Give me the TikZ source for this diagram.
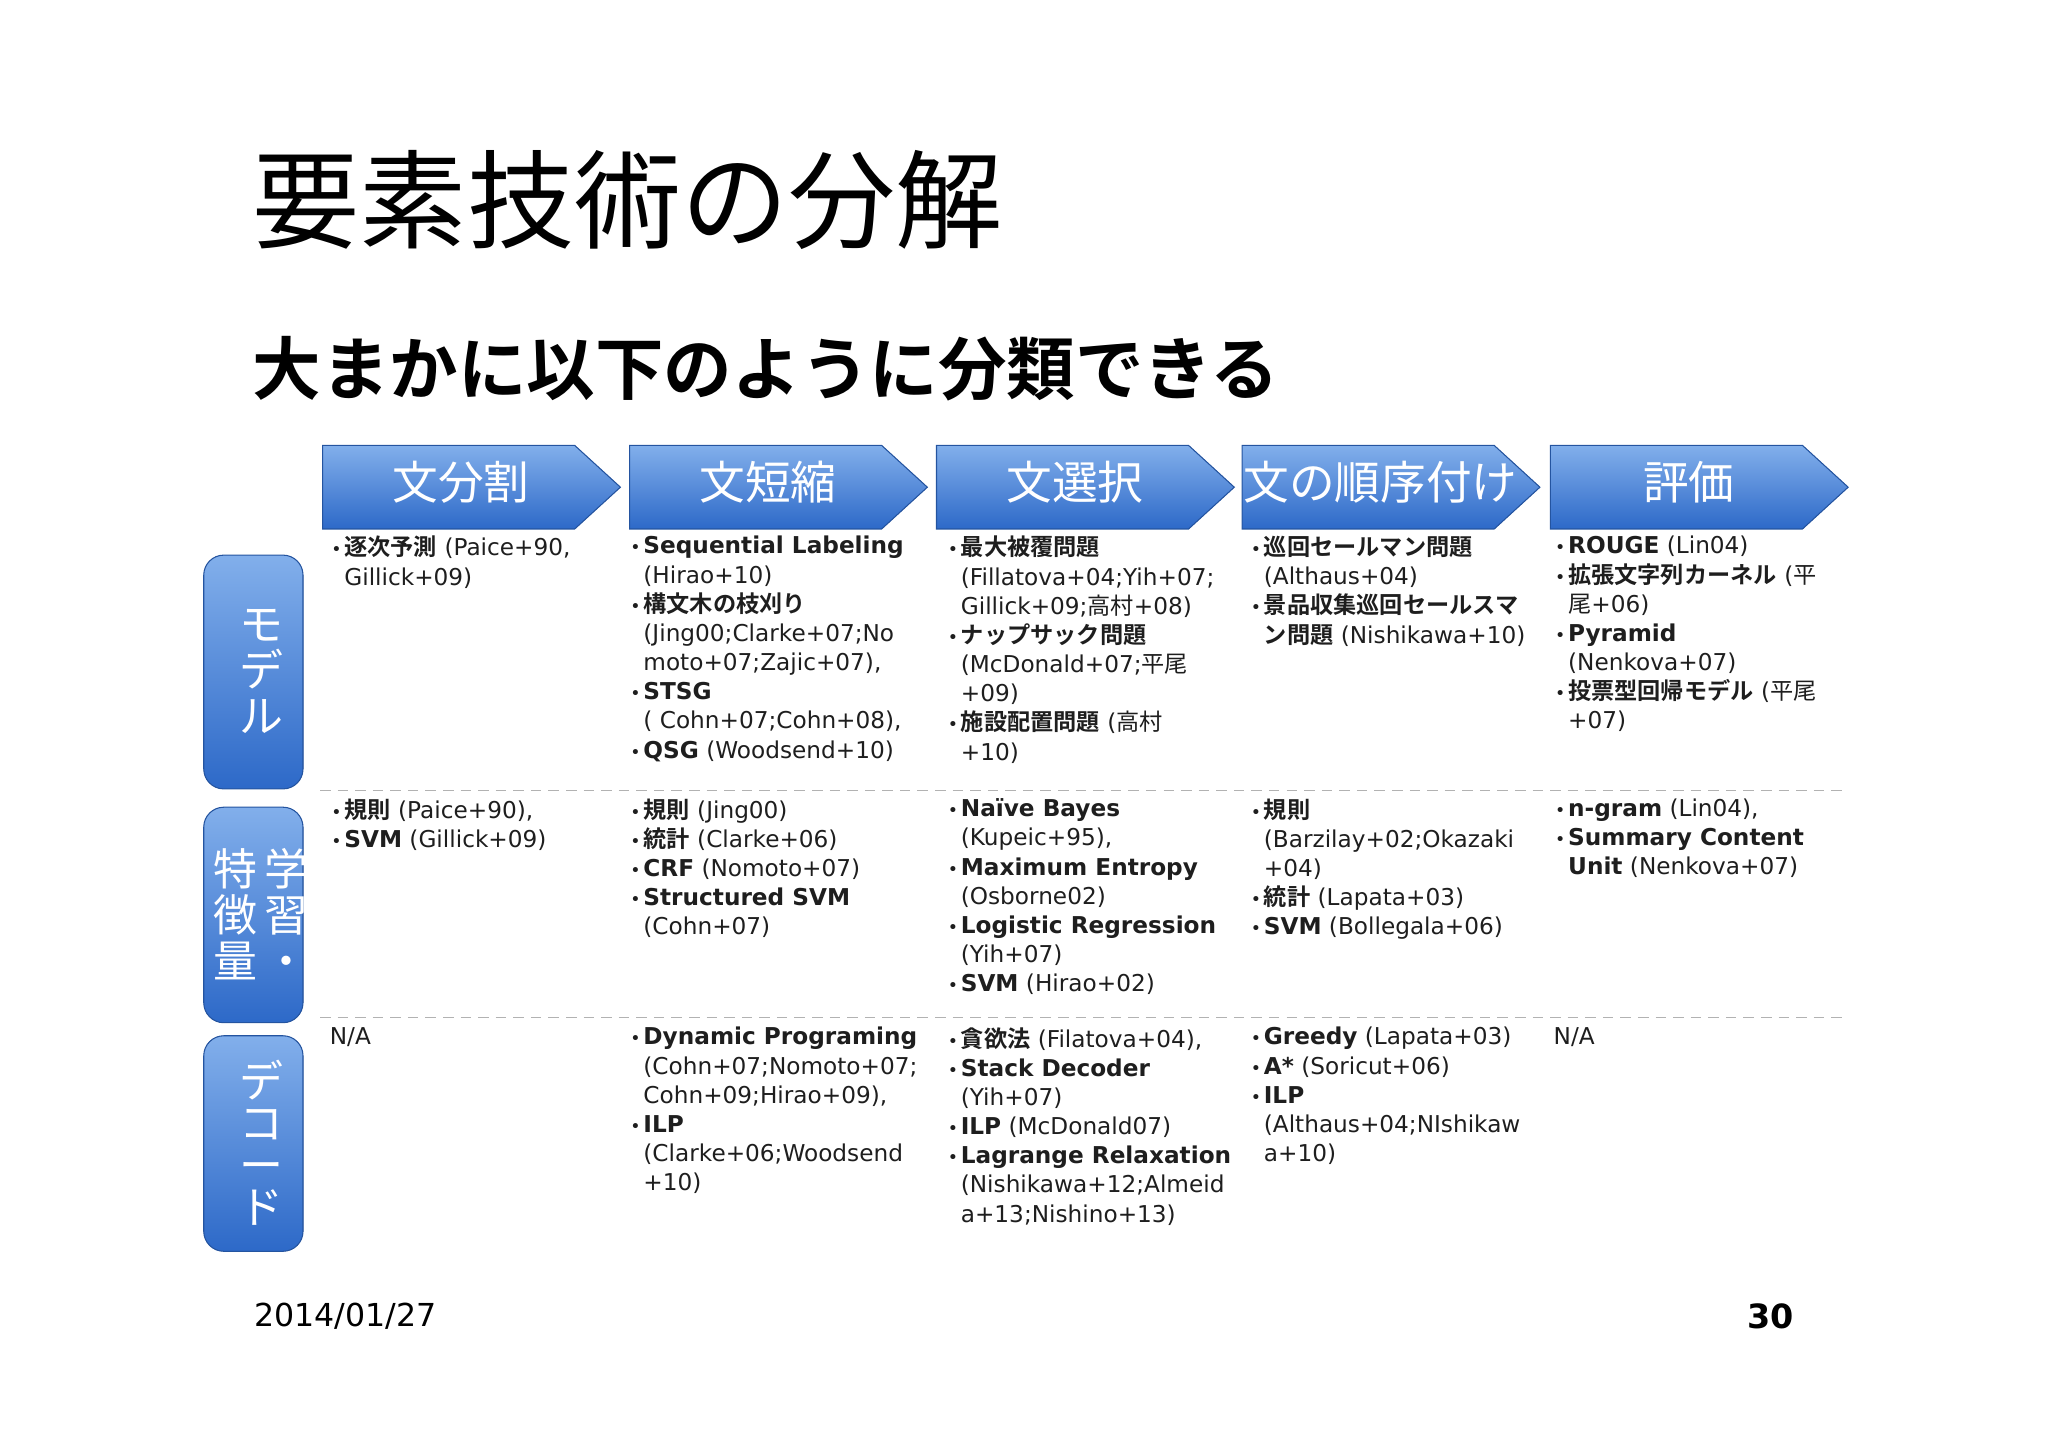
\documentclass[tikz,border=0pt]{standalone}
\usepackage{fontspec}
\setmainfont{DejaVu Sans}
\newfontfamily\jf{Noto Sans CJK JP}
\newfontfamily\jfb{Noto Sans CJK JP Bold}
\newcommand\J[1]{{\jf #1}}
\newcommand\JB[1]{{\jfb #1}}
\newcommand\B[1]{\textbf{#1}}
\newcommand\bl{\makebox[1.45mm][l]{\hspace{0.15mm}\scalebox{0.75}{•}}}
\newcommand\ii{\hspace*{1.45mm}}
\definecolor{blt}{RGB}{130,175,235}
\definecolor{bdk}{RGB}{45,105,200}
\definecolor{txt}{RGB}{30,30,30}
\begin{document}
\begin{tikzpicture}[x=0.013061cm,y=-0.013061cm,
  chev/.style={top color=blt,bottom color=bdk,draw=bdk!80!black,line width=0.3pt},
  side/.style={top color=blt,bottom color=bdk,draw=bdk!80!black,rounded corners=2mm,line width=0.3pt},
  hd/.style={text=white,font=\jf\fontsize{13}{15}\selectfont},
  vt/.style={text=white,font=\jf\fontsize{12.5}{13}\selectfont,align=center},
  cell/.style={anchor=north west,align=left,inner sep=0pt,text=txt,font=\fontsize{6.6}{8.3}\selectfont},
  sep/.style={densely dashed,draw=gray!60,line width=0.4pt}]
\useasboundingbox (0,0) rectangle (1568,1110);
\node[anchor=west,inner sep=0pt,font=\jf\fontsize{30.5}{32}\selectfont] (title) at (193,153) {要素技術の分解};
\node[anchor=west,inner sep=0pt,font=\jfb\fontsize{19.5}{22}\selectfont] (sub) at (193,282) {大まかに以下のように分類できる};
% chevrons
\foreach \x/\t/\n in {247/文分割/h1,482/文短縮/h2,717/文選択/h3,951/文の順序付け/h4,1187/評価/h5}{
  \fill[chev] (\x,341) -- (\x+193,341) -- (\x+228,373) -- (\x+193,405) -- (\x,405) -- cycle;
  \node[hd] (\n) at (\x+106,369) {\t};
}
% side boxes
\fill[side] (156,425) rectangle (232,604);
\node[vt] (s1) at (200,514) {モ\\デ\\ル};
\fill[side] (156,618) rectangle (232,783);
\node[vt] (s2) at (200,700) {特\,学\\徴\,習\\量\,・};
\fill[side] (156,793) rectangle (232,958);
\node[vt,font=\jf\fontsize{12.5}{12}\selectfont] (s3) at (200,875) {デ\\コ\\ー\\ド};
% separators
\draw[sep] (245,605) -- (1415,605);
\draw[sep] (245,779) -- (1415,779);
% row 1
\node[cell] (c11) at (252,410) {\bl\JB{逐次予測} (Paice+90,\\\ii Gillick+09)};
\node[cell] (c12) at (481,410) {\bl\B{Sequential Labeling}\\\ii(Hirao+10)\\\bl\JB{構文木の枝刈り}\\\ii(Jing00;Clarke+07;No\\\ii moto+07;Zajic+07),\\\bl\B{STSG}\\\ii( Cohn+07;Cohn+08),\\\bl\B{QSG} (Woodsend+10)};
\node[cell] (c13) at (724,410) {\bl\JB{最大被覆問題}\\\ii(Fillatova+04;Yih+07;\\\ii Gillick+09;\J{高村}+08)\\\bl\JB{ナップサック問題}\\\ii(McDonald+07;\J{平尾}\\\ii +09)\\\bl\JB{施設配置問題} (\J{高村}\\\ii +10)};
\node[cell] (c14) at (956,410) {\bl\JB{巡回セールマン問題}\\\ii(Althaus+04)\\\bl\JB{景品収集巡回セールスマ}\\\ii\JB{ン問題} (Nishikawa+10)};
\node[cell] (c15) at (1189,410) {\bl\B{ROUGE} (Lin04)\\\bl\JB{拡張文字列カーネル} (\J{平}\\\ii\J{尾}+06)\\\bl\B{Pyramid}\\\ii(Nenkova+07)\\\bl\JB{投票型回帰モデル} (\J{平尾}\\\ii +07)};
% row 2
\node[cell] (c21) at (252,611) {\bl\JB{規則} (Paice+90),\\\bl\B{SVM} (Gillick+09)};
\node[cell] (c22) at (481,611) {\bl\JB{規則} (Jing00)\\\bl\JB{統計} (Clarke+06)\\\bl\B{CRF} (Nomoto+07)\\\bl\B{Structured SVM}\\\ii(Cohn+07)};
\node[cell] (c23) at (724,611) {\bl\B{Naïve Bayes}\\\ii(Kupeic+95),\\\bl\B{Maximum Entropy}\\\ii(Osborne02)\\\bl\B{Logistic Regression}\\\ii(Yih+07)\\\bl\B{SVM} (Hirao+02)};
\node[cell] (c24) at (956,611) {\bl\JB{規則}\\\ii(Barzilay+02;Okazaki\\\ii +04)\\\bl\JB{統計} (Lapata+03)\\\bl\B{SVM} (Bollegala+06)};
\node[cell] (c25) at (1189,611) {\bl\B{n-gram} (Lin04),\\\bl\B{Summary Content}\\\ii\B{Unit} (Nenkova+07)};
% row 3
\node[cell] (c31) at (252,786) {N/A};
\node[cell] (c32) at (481,786) {\bl\B{Dynamic Programing}\\\ii(Cohn+07;Nomoto+07;\\\ii Cohn+09;Hirao+09),\\\bl\B{ILP}\\\ii(Clarke+06;Woodsend\\\ii +10)};
\node[cell] (c33) at (724,786) {\bl\JB{貪欲法} (Filatova+04),\\\bl\B{Stack Decoder}\\\ii(Yih+07)\\\bl\B{ILP} (McDonald07)\\\bl\B{Lagrange Relaxation}\\\ii(Nishikawa+12;Almeid\\\ii a+13;Nishino+13)};
\node[cell] (c34) at (956,786) {\bl\B{Greedy} (Lapata+03)\\\bl\B{A*} (Soricut+06)\\\bl\B{ILP}\\\ii(Althaus+04;NIshikaw\\\ii a+10)};
\node[cell] (c35) at (1189,786) {N/A};
% footer
\node[anchor=west,inner sep=0pt,font=\fontsize{9}{11}\selectfont] (date) at (194,1008) {2014/01/27};
\node[anchor=east,inner sep=0pt,font=\bfseries\fontsize{9.5}{11}\selectfont] (pg) at (1374,1008) {30};
\end{tikzpicture}
\end{document}
